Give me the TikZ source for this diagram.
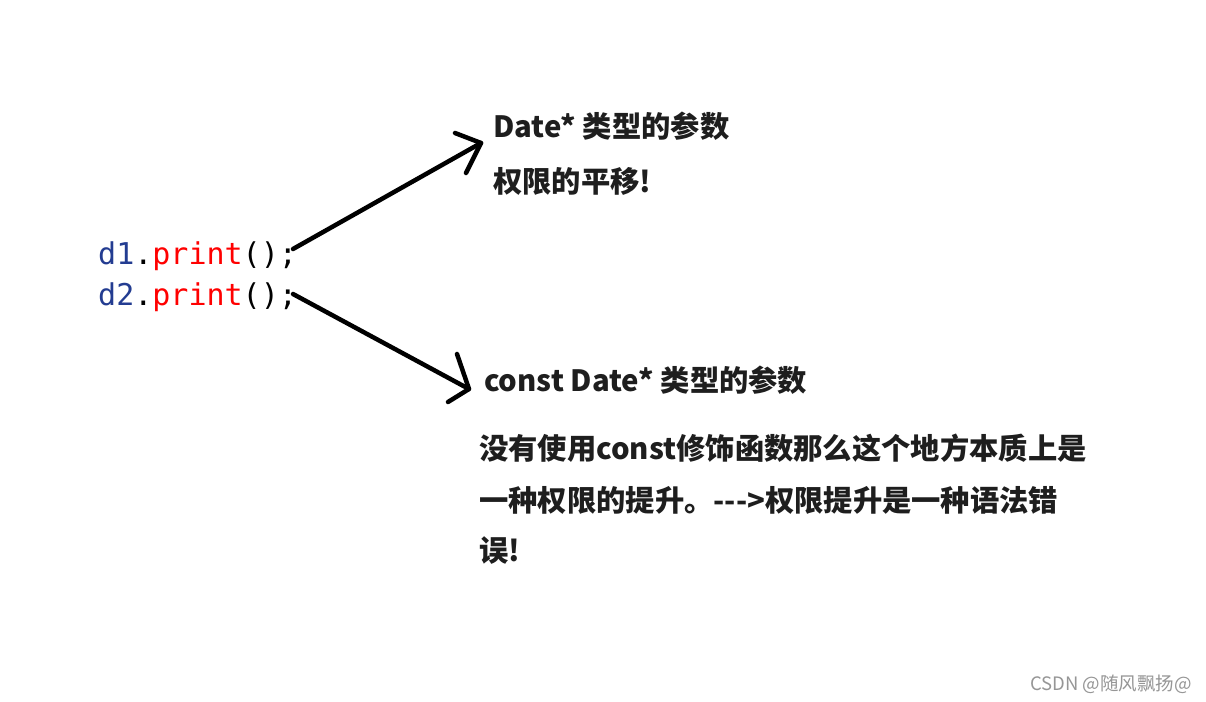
\documentclass[tikz,border=0pt]{standalone}
\usepackage{fontspec}
\newfontfamily\cjk{Noto Sans CJK SC}
\newfontfamily\codefont{DejaVu Sans Mono}
\definecolor{codeblue}{RGB}{35,60,145}
\definecolor{codered}{RGB}{255,0,0}
\definecolor{txt}{RGB}{30,30,30}
\definecolor{mark}{RGB}{150,150,150}
\begin{document}
\begin{tikzpicture}[x=1pt,y=-1pt,
  label/.style={anchor=base west,inner sep=0pt,font=\cjk\bfseries\fontsize{29.3}{33}\selectfont,text=txt},
  code/.style={anchor=base west,inner sep=0pt,font=\codefont\fontsize{30}{34}\selectfont},
  arrowline/.style={line width=4.5pt,line cap=round,line join=round}]
\useasboundingbox[fill=white] (0,0) rectangle (1206,701);
\node[code] (c1) at (98,264) {\textcolor{codeblue}{d1}.\textcolor{codered}{print}();};
\node[code] (c2) at (98,305) {\textcolor{codeblue}{d2}.\textcolor{codered}{print}();};
\node[label] (t1) at (493,137) {Date* 类型的参数};
\node[label] (t2) at (493,192) {权限的平移!};
\node[label] (t3) at (484,391) {const Date* 类型的参数};
\node[label] (b1) at (479,459) {没有使用const修饰函数那么这个地方本质上是};
\node[label] (b2) at (479,511) {一种权限的提升。--->权限提升是一种语法错};
\node[label] (b3) at (479,561) {误!};
\node[anchor=base west,inner sep=0pt,font=\fontspec{Noto Sans CJK SC}\fontsize{18.5}{21}\selectfont,text=mark] (wm) at (1030,690) {CSDN @随风飘扬@};
\coordinate (s1) at (293,249);
\coordinate (e1) at (481,143);
\coordinate (h1a) at (455,133);
\coordinate (h1b) at (466,173);
\coordinate (s2) at (293,294);
\coordinate (e2) at (469,389);
\coordinate (h2a) at (457,354);
\coordinate (h2b) at (448,402);
\draw[arrowline] (s1) -- (e1);
\draw[arrowline] (h1a) -- (e1) -- (h1b);
\draw[arrowline] (s2) -- (e2);
\draw[arrowline] (h2a) -- (e2) -- (h2b);
\end{tikzpicture}
\end{document}
